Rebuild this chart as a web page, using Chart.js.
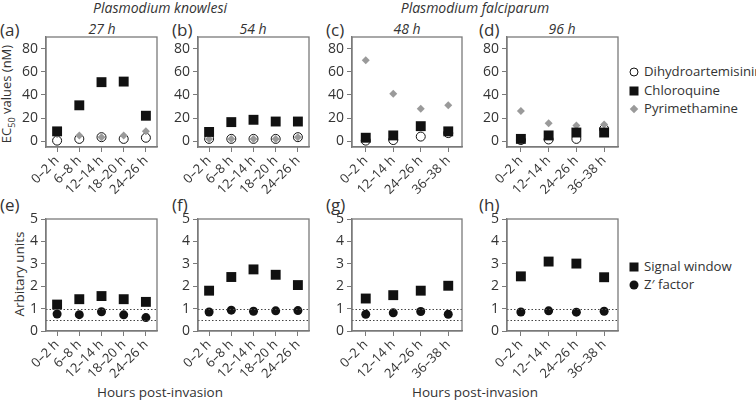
<!DOCTYPE html>
<html>
<head>
<meta charset="utf-8">
<script src="https://cdn.jsdelivr.net/npm/chart.js@4.4.0/dist/chart.umd.min.js"></script>
<style>
  body { margin: 0; width: 756px; height: 403px; position: relative; background: #fff; overflow: hidden;
         font-family: "Open Sans", sans-serif; color: #333; }
  canvas { position: absolute; }
  .t { position: absolute; white-space: nowrap; line-height: 1; }
  .c { transform: translate(-50%, -50%); }
  .it { font-style: italic; }
  .mk { position: absolute; transform: translate(-50%, -50%); box-sizing: border-box; }
</style>
</head>
<body>

<div class="t c it" style="left:160px;top:8px;font-size:14px">Plasmodium knowlesi</div>
<div class="t c it" style="left:475px;top:8px;font-size:14px">Plasmodium falciparum</div>

<div class="t" style="left:0px;top:21px;font-size:17px">(a)</div>
<div class="t" style="left:172px;top:21px;font-size:17px">(b)</div>
<div class="t" style="left:326px;top:21px;font-size:17px">(c)</div>
<div class="t" style="left:479px;top:21px;font-size:17px">(d)</div>
<div class="t" style="left:0px;top:196px;font-size:17px">(e)</div>
<div class="t" style="left:172px;top:196px;font-size:17px">(f)</div>
<div class="t" style="left:326px;top:196px;font-size:17px">(g)</div>
<div class="t" style="left:479px;top:196px;font-size:17px">(h)</div>

<div class="t c it" style="left:102px;top:29px;font-size:14px">27 h</div>
<div class="t c it" style="left:253px;top:29px;font-size:14px">54 h</div>
<div class="t c it" style="left:407px;top:29px;font-size:14px">48 h</div>
<div class="t c it" style="left:562px;top:29px;font-size:14px">96 h</div>

<div class="t c" style="left:8px;top:94px;font-size:13px;transform:translate(-50%,-50%) rotate(-90deg)">EC<sub style="font-size:9px">50</sub> values (nM)</div>
<div class="t c" style="left:20px;top:274px;font-size:13.5px;transform:translate(-50%,-50%) rotate(-90deg)">Arbitary units</div>

<div class="t c" style="left:160px;top:393px;font-size:13.5px">Hours post-invasion</div>
<div class="t c" style="left:475px;top:393px;font-size:13.5px">Hours post-invasion</div>

<!-- legends -->
<div class="mk" style="left:634px;top:72px;width:9px;height:9px;border:1px solid #111;border-radius:50%;background:#fff"></div>
<div class="t" style="left:644px;top:65px;font-size:13.2px">Dihydroartemisinin</div>
<div class="mk" style="left:634px;top:91px;width:9px;height:9px;background:#111"></div>
<div class="t" style="left:644px;top:84px;font-size:13.2px">Chloroquine</div>
<div class="mk" style="left:634px;top:109px;width:6px;height:6px;background:#9a9a9a;transform:translate(-50%,-50%) rotate(45deg)"></div>
<div class="t" style="left:644px;top:102px;font-size:13.2px">Pyrimethamine</div>

<div class="mk" style="left:634px;top:267px;width:9px;height:9px;background:#111"></div>
<div class="t" style="left:644px;top:260px;font-size:13.2px">Signal window</div>
<div class="mk" style="left:634px;top:285px;width:9px;height:9px;border-radius:50%;background:#111"></div>
<div class="t" style="left:644px;top:278px;font-size:13.2px">Z′ factor</div>

<canvas id="pa"></canvas>
<canvas id="pb"></canvas>
<canvas id="pc"></canvas>
<canvas id="pd"></canvas>
<canvas id="pe"></canvas>
<canvas id="pf"></canvas>
<canvas id="pg"></canvas>
<canvas id="ph"></canvas>

<script>
// categories
const knowlesiHours = ["0–2 h", "6–8 h", "12–14 h", "18–20 h", "24–26 h"];
const falciparumHours = ["0–2 h", "12–14 h", "24–26 h", "36–38 h"];
const ec50Ticks = [0, 20, 40, 60, 80];
const unitTicks = [0, 1, 2, 3, 4, 5];
const thresholds = [1, 0.5];

// EC50 values (nM)
const dha27 = [0.5, 2, 3.5, 2, 3];
const cq27 = [8.5, 31, 51, 51.5, 22];
const pyr27 = [6, 5, 3.5, 5, 8.5];

const dha54 = [2, 2, 2, 2, 3.5];
const cq54 = [8, 16.5, 18.5, 17, 17];
const pyr54 = [2, 2, 2, 2, 3.5];

const dha48 = [0.5, 1, 4, 7];
const cq48 = [3, 5, 13, 8.5];
const pyr48 = [70, 41, 28, 31];

const dha96 = [1, 1.5, 2, 10.5];
const cq96 = [2, 5, 7.5, 7.5];
const pyr96 = [26, 15.5, 13.5, 14.5];

// signal window / Z' factor
const sw27 = [1.18, 1.42, 1.56, 1.42, 1.3];
const z27 = [0.76, 0.73, 0.86, 0.72, 0.6];
const sw54 = [1.8, 2.41, 2.75, 2.51, 2.05];
const z54 = [0.85, 0.93, 0.88, 0.9, 0.91];
const sw48 = [1.45, 1.6, 1.8, 2.02];
const z48 = [0.75, 0.81, 0.87, 0.75];
const sw96 = [2.44, 3.1, 3.01, 2.4];
const z96 = [0.85, 0.9, 0.84, 0.88];

const PL = 46, PT = 12, PR = 10, PB = 60;
const axisColor = "#7a7a7a";
const textColor = "#333";

// draws the frame around the plot and the dotted threshold lines
const framePlugin = {
  id: "frame",
  afterDatasetsDraw(chart, args, opts) {
    const { ctx, chartArea: a, scales } = chart;
    ctx.save();
    (opts.lines || []).forEach((v) => {
      const y = Math.round(scales.y.getPixelForValue(v)) + 0.5;
      ctx.strokeStyle = "#444";
      ctx.lineWidth = 1;
      ctx.setLineDash([1.5, 2]);
      ctx.beginPath();
      ctx.moveTo(a.left, y);
      ctx.lineTo(a.right, y);
      ctx.stroke();
    });
    ctx.restore();
  },
  afterDraw(chart) {
    const { ctx, chartArea: a } = chart;
    ctx.save();
    ctx.strokeStyle = axisColor;
    ctx.lineWidth = 1.3;
    ctx.strokeRect(a.left, a.top, a.right - a.left, a.bottom - a.top);
    ctx.restore();
  },
};

function ec50Sets(dha, cq, pyr) {
  return [
    { data: cq, pointStyle: "rect", pointRadius: 7, backgroundColor: "#111", borderColor: "#111", borderWidth: 0, order: 0 },
    { data: pyr, pointStyle: "rectRot", pointRadius: 4, backgroundColor: "#9a9a9a", borderColor: "#9a9a9a", borderWidth: 0, order: 1 },
    { data: dha, pointStyle: "circle", pointRadius: 4.5, backgroundColor: "rgba(255,255,255,0.6)", borderColor: "#111", borderWidth: 1, order: 2 },
  ];
}

function assaySets(sw, z) {
  return [
    { data: sw, pointStyle: "rect", pointRadius: 7, backgroundColor: "#111", borderColor: "#111", borderWidth: 0 },
    { data: z, pointStyle: "circle", pointRadius: 4.5, backgroundColor: "#111", borderColor: "#111", borderWidth: 0 },
  ];
}

function makePanel(id, box, labels, yMin, yMax, yTicks, datasets, lines) {
  const [x0, x1, y0, y1] = box;
  const cv = document.getElementById(id);
  cv.width = x1 - x0 + PL + PR;
  cv.height = y1 - y0 + PT + PB;
  cv.style.left = x0 - PL + "px";
  cv.style.top = y0 - PT + "px";
  datasets.forEach((d) => (d.showLine = false));

  new Chart(cv, {
    type: "line",
    data: { labels: labels, datasets: datasets },
    options: {
      responsive: false,
      animation: false,
      devicePixelRatio: 1,
      layout: { padding: { top: PT, right: PR, left: 0, bottom: 0 } },
      plugins: { legend: { display: false }, tooltip: { enabled: false }, frame: { lines: lines } },
      scales: {
        x: {
          type: "category",
          offset: true,
          grid: { drawOnChartArea: false, drawTicks: true, tickLength: 5, color: axisColor, offset: false },
          border: { color: axisColor, width: 1.3 },
          ticks: { autoSkip: false, maxRotation: 45, minRotation: 45, padding: 1, color: textColor,
                   font: { family: "Open Sans", size: 13 } },
          afterFit: (s) => { s.height = PB; },
        },
        y: {
          min: yMin,
          max: yMax,
          afterBuildTicks: (s) => { s.ticks = yTicks.map((v) => ({ value: v })); },
          grid: { drawOnChartArea: false, drawTicks: true, tickLength: 5, color: axisColor },
          border: { color: axisColor, width: 1.3 },
          ticks: { padding: 3, color: textColor, font: { family: "Open Sans", size: 14 } },
          afterFit: (s) => { s.width = PL; },
        },
      },
    },
    plugins: [framePlugin],
  });
}

const topRow = [37, 147];
const bottomRow = [219, 331];

makePanel("pa", [46, 157, ...topRow], knowlesiHours, -5, 90, ec50Ticks, ec50Sets(dha27, cq27, pyr27), []);
makePanel("pb", [198, 309, ...topRow], knowlesiHours, -5, 90, ec50Ticks, ec50Sets(dha54, cq54, pyr54), []);
makePanel("pc", [352, 462, ...topRow], falciparumHours, -5, 90, ec50Ticks, ec50Sets(dha48, cq48, pyr48), []);
makePanel("pd", [507, 618, ...topRow], falciparumHours, -5, 90, ec50Ticks, ec50Sets(dha96, cq96, pyr96), []);

makePanel("pe", [46, 157, ...bottomRow], knowlesiHours, 0, 5, unitTicks, assaySets(sw27, z27), thresholds);
makePanel("pf", [198, 309, ...bottomRow], knowlesiHours, 0, 5, unitTicks, assaySets(sw54, z54), thresholds);
makePanel("pg", [352, 462, ...bottomRow], falciparumHours, 0, 5, unitTicks, assaySets(sw48, z48), thresholds);
makePanel("ph", [507, 618, ...bottomRow], falciparumHours, 0, 5, unitTicks, assaySets(sw96, z96), thresholds);
</script>
</body>
</html>
